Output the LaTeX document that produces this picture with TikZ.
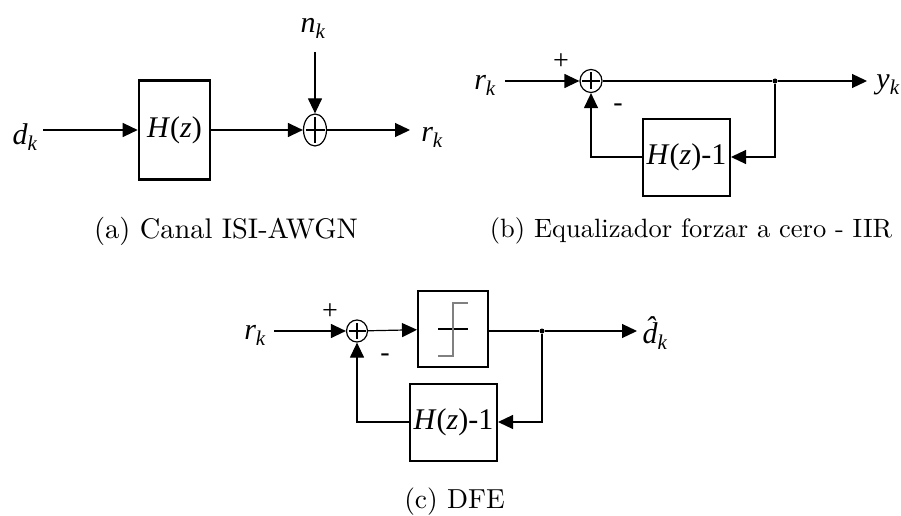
\documentclass[tikz,border=0pt]{standalone}
\usepackage{fontspec}
\newfontfamily\tnr{LiberationSerif}[Extension=.ttf, UprightFont=*-Regular, ItalicFont=*-Italic, BoldFont=*-Bold, BoldItalicFont=*-BoldItalic]
\usetikzlibrary{arrows.meta, positioning, shapes.geometric}

\begin{document}
\begin{tikzpicture}[x=1pt,y=-1pt,
    lbl/.style={font=\tnr\itshape\fontsize{30}{30}\selectfont, inner sep=0pt},
    sgn/.style={font=\tnr\fontsize{28}{28}\selectfont, inner sep=0pt},
    blk/.style={draw, line width=2pt, inner sep=0pt, minimum width=87pt, minimum height=77pt, font=\tnr\fontsize{30}{30}\selectfont},
    summ/.style={draw, ellipse, line width=1.2pt, inner sep=0pt,
      path picture={\draw[line width=2.4pt] ([yshift=-3pt]path picture bounding box.north) -- ([yshift=3pt]path picture bounding box.south)
        ([xshift=2pt]path picture bounding box.west) -- ([xshift=-2pt]path picture bounding box.east);}},
    sig/.style={line width=1.2pt, -{Triangle[length=15pt,width=14pt]}},
    jn/.style={circle, fill, inner sep=0pt, minimum size=5pt},
    subcap/.style={inner sep=0pt}]
    \useasboundingbox (0,0) rectangle (901,516);

    \node[lbl] (dA) at (25,137) {d\textsubscript{k}};
    \node[blk, line width=2.6pt, minimum width=71pt, minimum height=99pt] (hA) at (174.5,130) {\textit{H}(\textit{z})};
    \node[summ, minimum width=23pt, minimum height=32pt] (sA) at (315,130) {};
    \node[lbl] (nA) at (313,28) {n\textsubscript{k}};
    \node[lbl] (rA) at (432,137) {r\textsubscript{k}};
    \coordinate (iA) at (43,130);
    \coordinate (tA) at (315,52);
    \coordinate (oA) at (410,130);
    \draw[sig] (iA) -- (hA);
    \draw[sig] (hA) -- (sA);
    \draw[sig] (tA) -- (sA);
    \draw[sig] (sA) -- (oA);
    \node[subcap] (cA) at (226,231) {\scalebox{2.84}{(a) Canal ISI-AWGN}};

    \node[lbl] (rB) at (485,85) {r\textsubscript{k}};
    \node[summ, minimum width=22pt, minimum height=23pt] (sB) at (591,81) {};
    \node[sgn] (pB) at (561,62) {+};
    \node[sgn] (mB) at (618,108) {-};
    \node[jn] (jB) at (775,81) {};
    \node[lbl] (yB) at (888,85) {y\textsubscript{k}};
    \node[blk] (gB) at (686.5,157) {\textit{H}(\textit{z})-1};
    \coordinate (iB) at (505,81);
    \coordinate (oB) at (867,81);
    \draw[sig] (iB) -- (sB);
    \draw[line width=1.2pt] (sB) -- (jB);
    \draw[sig] (jB) -- (oB);
    \draw[sig] (jB) |- (gB);
    \draw[sig] (gB) -| (sB);
    \node[subcap] (cB) at (691,231) {\scalebox{2.65}{(b) Equalizador forzar a cero - IIR}};

    \node[lbl] (rC) at (255,335) {r\textsubscript{k}};
    \node[summ, minimum width=21pt, minimum height=22pt] (sC) at (357,331) {};
    \node[sgn] (pC) at (330,312) {+};
    \node[sgn] (mC) at (385,358) {-};
    \node[blk, minimum width=70pt, minimum height=76pt] (qC) at (453,329) {};
    \draw[line width=1.2pt] ([xshift=-15pt]qC.center) -- ([xshift=15pt]qC.center);
    \draw[line width=1.2pt, gray] ([shift={(-15,27)}]qC.center) -- ([shift={(0,27)}]qC.center)
      -- ([shift={(0,-26)}]qC.center) -- ([shift={(15,-26)}]qC.center);
    \node[jn] (jC) at (542,331) {};
    \node[lbl] (dC) at (655,333) {\^{d}\textsubscript{k}};
    \node[blk] (gC) at (453.5,422) {\textit{H}(\textit{z})-1};
    \coordinate (iC) at (274,331);
    \coordinate (oC) at (637,331);
    \draw[sig] (iC) -- (sC);
    \draw[sig] (sC) -- (qC);
    \draw[line width=1.2pt] (qC.east |- jC) -- (jC);
    \draw[sig] (jC) -- (oC);
    \draw[sig] (jC) |- (gC);
    \draw[sig] (gC) -| (sC);
    \node[subcap] (cC) at (454.5,502) {\scalebox{2.75}{(c) DFE}};
\end{tikzpicture}
\end{document}
